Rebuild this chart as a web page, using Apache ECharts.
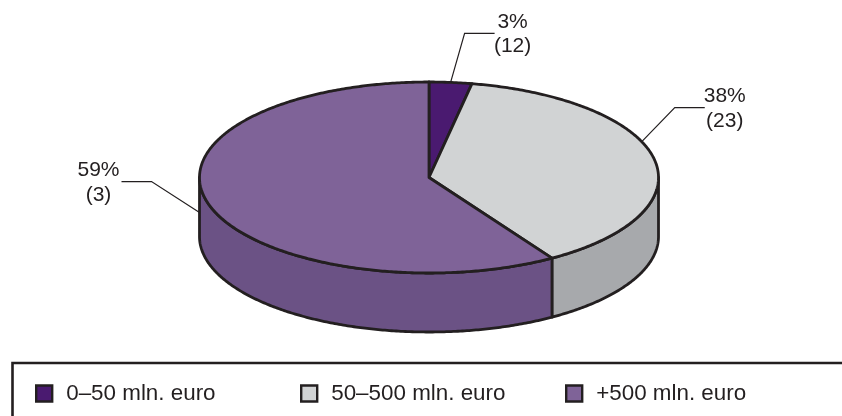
<!DOCTYPE html>
<html><head><meta charset="utf-8">
<style>html,body{margin:0;padding:0;background:#fff}#c{width:842px;height:416px}</style>
<script src="https://cdn.jsdelivr.net/npm/echarts@6/dist/echarts.min.js"></script>
</head><body><div id="c"></div>
<script>
const categories = ['0–50 mln. euro', '50–500 mln. euro', '+500 mln. euro'];
const shares = [3, 38, 59];
const counts = [12, 23, 3];
const topColors = ['#4a1a70', '#d1d3d4', '#7f6398'];
const sideColors = ['#3a1458', '#a7a9ac', '#6b5285'];
const INK = '#231f20', FONT = '"Liberation Sans", Arial, sans-serif';
const CX = 429, CY = 177.5, RX = 229.5, RY = 95.5, DEPTH = 59;
// Where the leader starts on each slice (fraction through the slice, drop down the side), and its elbow offsets
const anchorFrac = [0.5, 0.418, 0.576], anchorDrop = [0, 0, 35];
const elbow = [[14, -49, 30], [33, -34, 30], [-48, -31, -30]];
const labelOff = [18, 20, -23];
const total = shares.reduce((a, b) => a + b, 0);
const pt = (t, d) => [CX + RX * Math.sin(t), CY - RY * Math.cos(t) + (d || 0)];
const arc = (a, b, d) => { const n = Math.max(2, Math.ceil(Math.abs(b - a) / 0.01)), r = [];
  for (let i = 0; i <= n; i++) r.push(pt(a + (b - a) * i / n, d)); return r; };
const lineStyle = { stroke: INK, lineWidth: 2.8, lineJoin: 'round' };

function slice(i) {
  return function (params, api) {
    const v = api.value(0), start = api.value(1);
    const a = start / total * 2 * Math.PI, b = (start + v) / total * 2 * Math.PI;
    const kids = [];
    const s0 = Math.max(a, Math.PI / 2), s1 = Math.min(b, 1.5 * Math.PI);
    if (s1 > s0) kids.push({ type: 'polygon', z2: 1,
      shape: { points: arc(s0, s1, 0).concat(arc(s1, s0, DEPTH)) },
      style: Object.assign({ fill: sideColors[i] }, lineStyle) });
    kids.push({ type: 'polygon', z2: 2,
      shape: { points: [[CX, CY]].concat(arc(a, b, 0)) },
      style: Object.assign({ fill: topColors[i] }, lineStyle) });
    const m = a + (b - a) * anchorFrac[i], p0 = pt(m, anchorDrop[i]);
    const p1 = [p0[0] + elbow[i][0], p0[1] + elbow[i][1]], p2 = [p1[0] + elbow[i][2], p1[1]];
    kids.push({ type: 'polyline', z2: 3, shape: { points: [p0, p1, p2] },
      style: { stroke: INK, lineWidth: 1.2, fill: null } });
    const tx = p2[0] + labelOff[i];
    kids.push({ type: 'text', z2: 3, style: { text: v + '%\n(' + api.value(2) + ')',
      x: tx, y: p2[1] + 1, align: 'center', verticalAlign: 'middle', fill: INK,
      font: '21px ' + FONT, lineHeight: 24.5 } });
    return { type: 'group', children: kids };
  };
}
let cum = 0;
const series = categories.map((name, i) => {
  const row = [shares[i], cum, counts[i]]; cum += shares[i];
  return { type: 'custom', name, coordinateSystem: 'none', silent: true, z: 2 + (i === 2 ? 1 : 0),
    animation: false, itemStyle: { color: topColors[i], borderColor: INK, borderWidth: 2.4 },
    renderItem: slice(i), data: [row] };
});
const legendLeft = [35, 300, 565];
const legend = categories.map((name, i) => ({
  data: [{ name, icon: 'rect' }], left: legendLeft[i], top: 382.5, padding: 0, itemWidth: 16, itemHeight: 16,
  itemGap: 0, selectedMode: false,
  textStyle: { fontFamily: FONT, fontSize: 22.4, color: INK, padding: [0, 0, 0, 9] },
  itemStyle: { borderColor: INK, borderWidth: 2.4 }
}));
const chart = echarts.init(document.getElementById('c'), null, { renderer: 'canvas' });
chart.setOption({ animation: false, backgroundColor: '#fff', legend, series,
  graphic: [{ type: 'polyline', silent: true, shape: { points: [[12.5, 416], [12.5, 363], [842, 363]] },
    style: { stroke: INK, lineWidth: 2.6, fill: null } }] });
</script></body></html>
